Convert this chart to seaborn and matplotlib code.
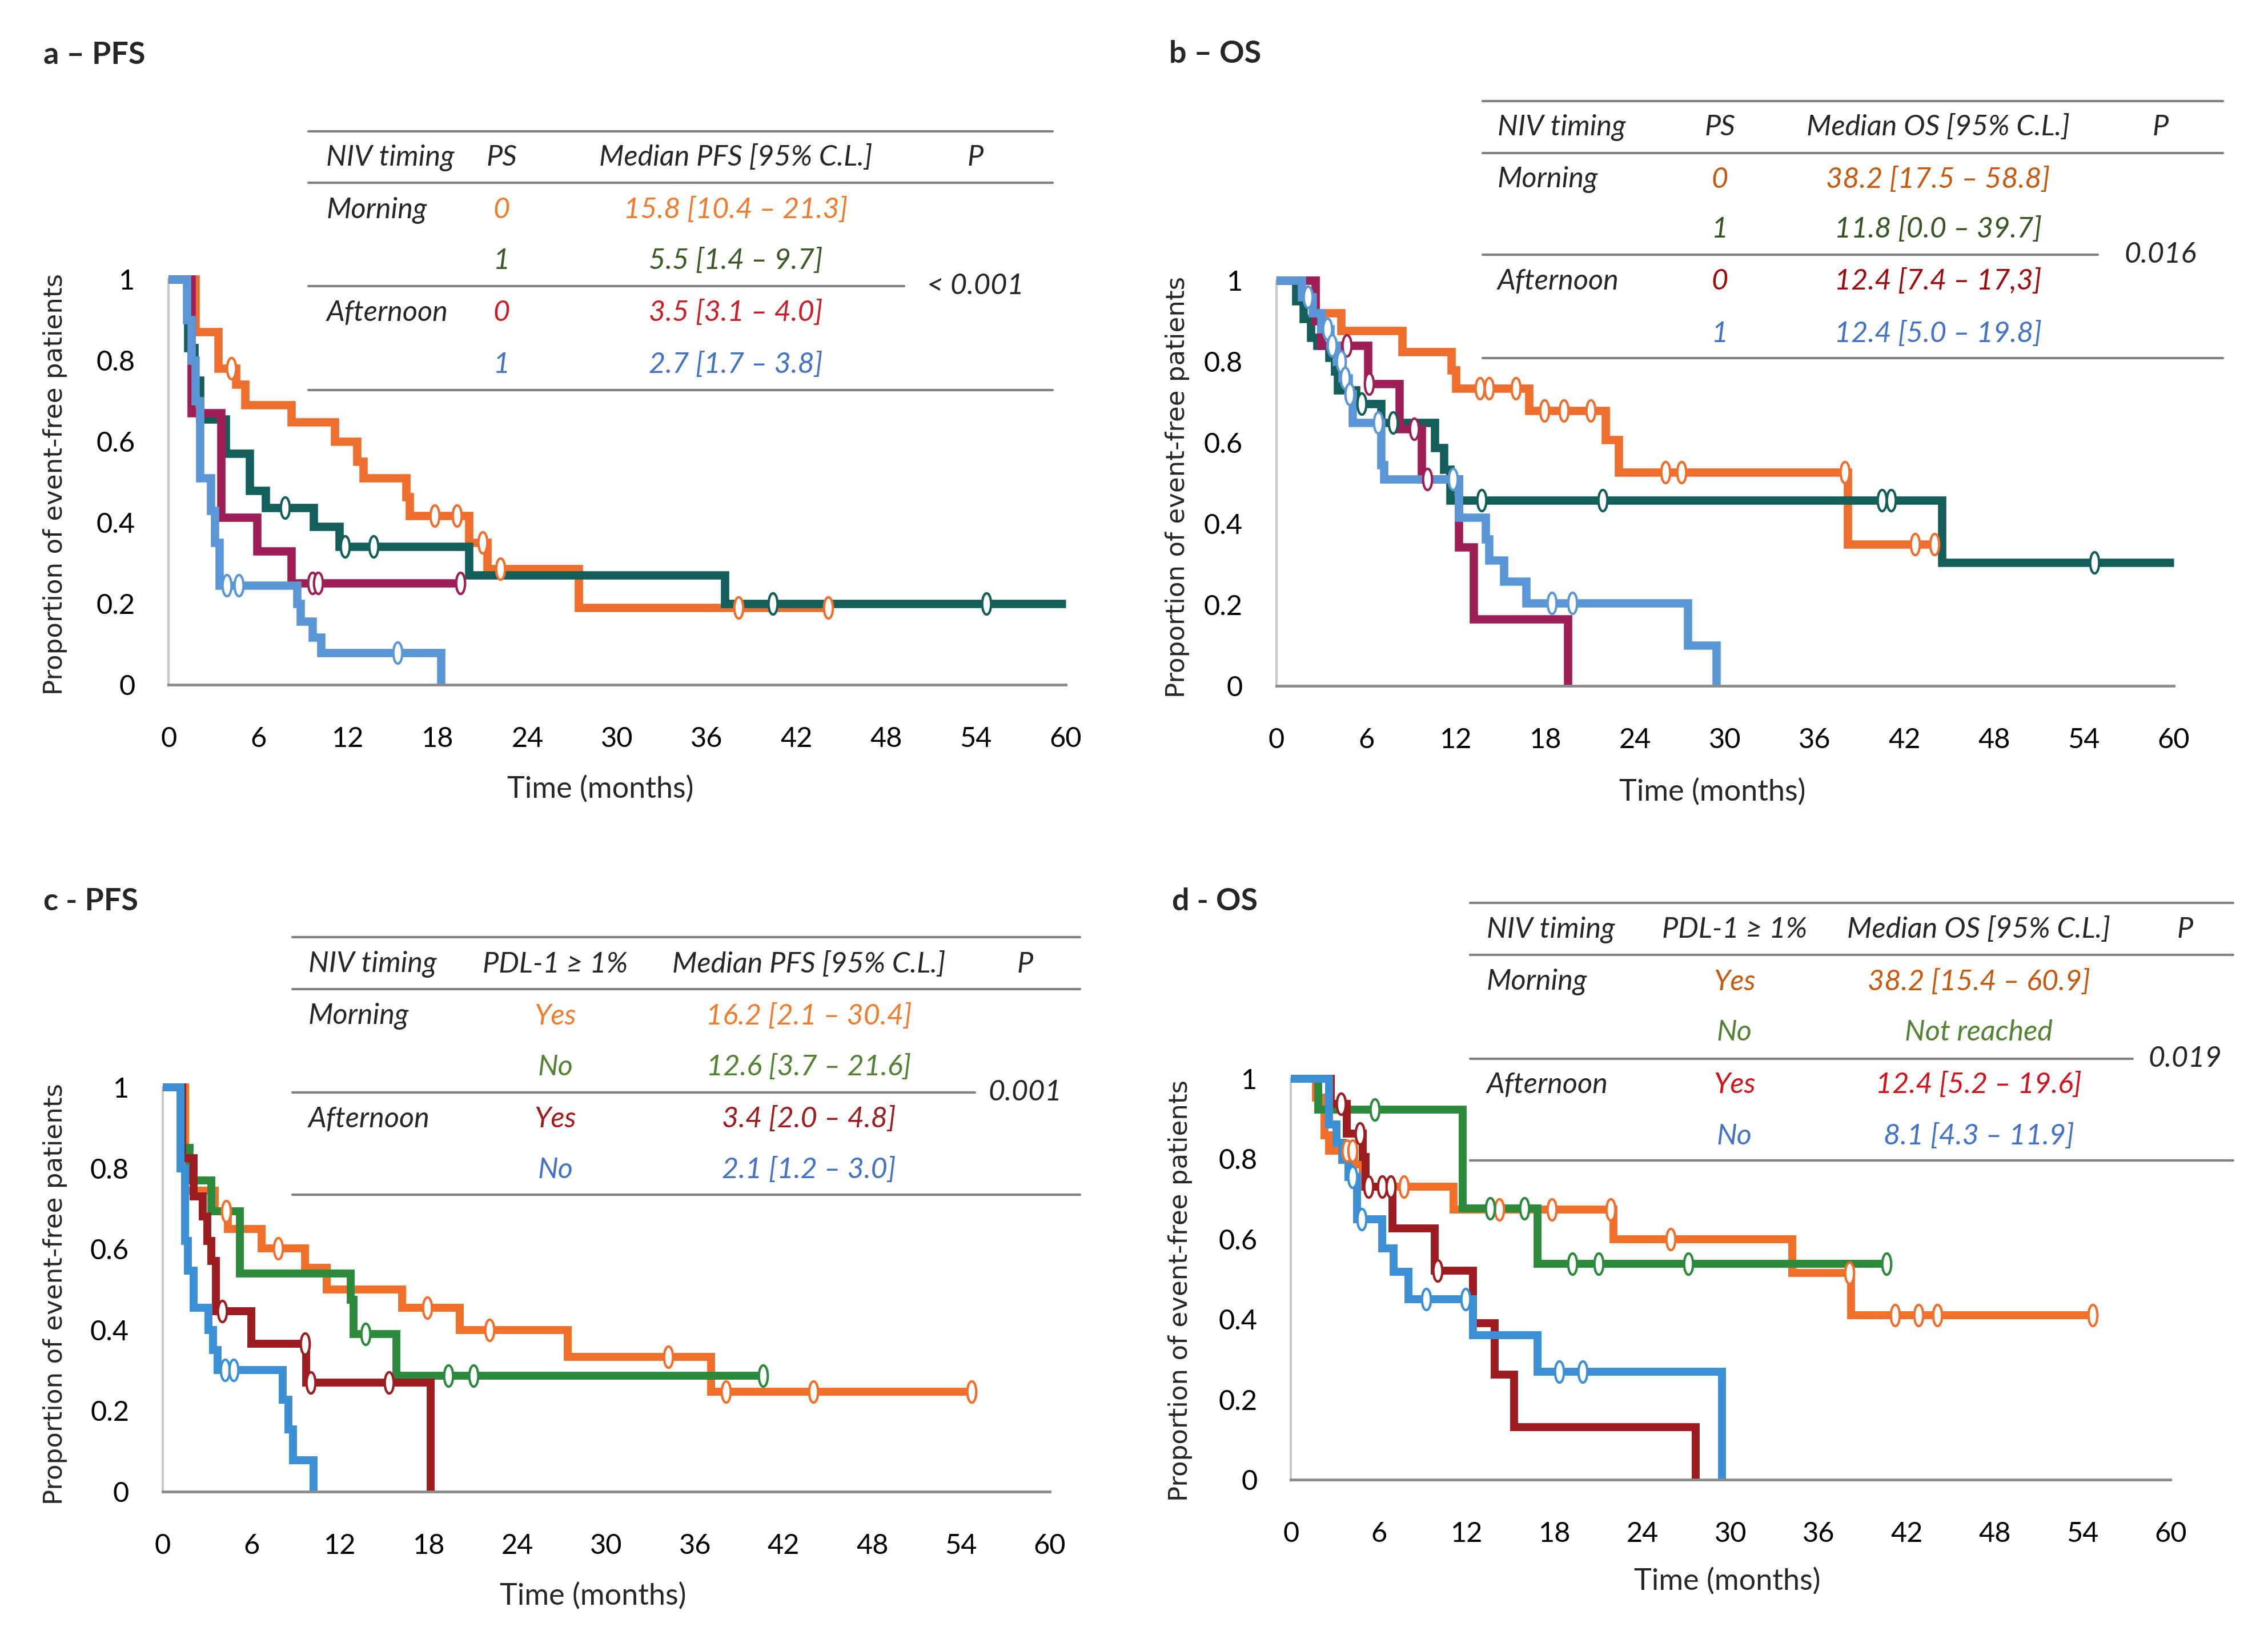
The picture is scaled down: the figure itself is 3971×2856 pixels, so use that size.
import numpy as np
import pandas as pd
import matplotlib
matplotlib.use('Agg')
import matplotlib.pyplot as plt
import matplotlib.path as mpath
from matplotlib.lines import Line2D
import seaborn as sns

# ---------------- data (months / proportion event-free) ----------------
# a - PFS, NIV timing x PS
a_morning0_t = [0, 1.8, 3.3, 4.5, 5.1, 8.2, 11.1, 12.6, 13.0, 15.9, 16.1, 20.1, 21.3, 27.4, 44.1]
a_morning0_s = [1, 0.87, 0.78, 0.74, 0.69, 0.647, 0.60, 0.55, 0.51, 0.463, 0.417, 0.35, 0.286, 0.19, 0.19]
a_morning0_cens = [4.2, 17.8, 19.3, 21.0, 22.2, 38.1, 44.1]
a_morning1_t = [0, 1.3, 1.7, 2.1, 3.8, 5.4, 6.5, 9.7, 11.4, 20.1, 37.2, 60]
a_morning1_s = [1, 0.83, 0.75, 0.655, 0.57, 0.478, 0.436, 0.39, 0.34, 0.27, 0.20, 0.20]
a_morning1_cens = [7.8, 11.8, 13.7, 40.4, 54.7]
a_after0_t = [0, 1.5, 3.5, 5.9, 8.2, 19.5]
a_after0_s = [1, 0.67, 0.413, 0.33, 0.25, 0.25]
a_after0_cens = [9.6, 10.0, 19.5]
a_after1_t = [0, 1.2, 1.5, 1.8, 2.1, 2.8, 3.1, 3.4, 8.6, 8.8, 9.6, 10.2, 18.2]
a_after1_s = [1, 0.9, 0.8, 0.7, 0.51, 0.43, 0.35, 0.245, 0.2, 0.156, 0.117, 0.079, 0]
a_after1_cens = [3.9, 4.7, 15.3]

# b - OS, NIV timing x PS
b_morning0_t = [0, 2.6, 4.3, 8.4, 11.7, 12.0, 16.9, 22.0, 22.9, 38.2, 44.0]
b_morning0_s = [1, 0.92, 0.876, 0.824, 0.78, 0.734, 0.68, 0.607, 0.527, 0.35, 0.35]
b_morning0_cens = [13.6, 14.2, 16.0, 17.9, 19.2, 21.0, 26.0, 27.1, 38.0, 42.7, 44.0]
b_morning1_t = [0, 1.3, 1.8, 2.3, 2.7, 3.5, 3.9, 4.1, 5.3, 7.0, 10.6, 11.2, 11.6, 44.5, 60]
b_morning1_s = [1, 0.95, 0.906, 0.86, 0.84, 0.81, 0.776, 0.73, 0.696, 0.65, 0.588, 0.535, 0.458, 0.305, 0.305]
b_morning1_cens = [5.7, 7.8, 13.7, 21.8, 40.5, 41.1, 54.7]
b_after0_t = [0, 2.6, 3.0, 6.1, 8.2, 9.7, 12.2, 13.2, 19.5]
b_after0_s = [1, 0.9, 0.84, 0.745, 0.634, 0.51, 0.343, 0.166, 0]
b_after0_cens = [4.7, 6.2, 9.2, 10.1]
b_after1_t = [0, 1.7, 2.4, 3.0, 3.6, 4.0, 4.4, 4.8, 5.1, 7.0, 7.2, 12.2, 14.0, 14.2, 15.2, 16.7, 27.5, 29.4]
b_after1_s = [1, 0.96, 0.92, 0.88, 0.84, 0.80, 0.76, 0.72, 0.65, 0.546, 0.51, 0.416, 0.362, 0.31, 0.258, 0.205, 0.10, 0]
b_after1_cens = [2.1, 3.4, 3.7, 4.3, 4.6, 4.9, 6.8, 11.8, 18.4, 19.8]

# c - PFS, NIV timing x PDL-1
c_morningY_t = [0, 1.5, 3.5, 4.4, 6.7, 9.6, 11.1, 16.2, 20.1, 27.4, 37.1, 54.7]
c_morningY_s = [1, 0.744, 0.694, 0.649, 0.602, 0.554, 0.50, 0.455, 0.40, 0.333, 0.247, 0.247]
c_morningY_cens = [4.3, 7.8, 17.9, 22.1, 34.2, 38.1, 44.0, 54.7]
c_morningN_t = [0, 1.3, 1.8, 3.3, 5.2, 12.7, 12.9, 15.8, 40.6]
c_morningN_s = [1, 0.85, 0.77, 0.694, 0.54, 0.475, 0.39, 0.287, 0.287]
c_morningN_cens = [13.7, 19.3, 21.0, 40.6]
c_afterY_t = [0, 1.3, 2.1, 2.7, 3.0, 3.3, 3.6, 6.0, 9.7, 18.1]
c_afterY_s = [1, 0.825, 0.73, 0.68, 0.62, 0.57, 0.446, 0.366, 0.27, 0]
c_afterY_cens = [4.0, 9.6, 10.0, 15.3]
c_afterN_t = [0, 1.2, 1.5, 1.7, 2.1, 3.1, 3.4, 3.7, 8.1, 8.5, 8.8, 10.2]
c_afterN_s = [1, 0.8, 0.62, 0.547, 0.455, 0.40, 0.35, 0.30, 0.227, 0.154, 0.077, 0]
c_afterN_cens = [4.2, 4.8]

# d - OS, NIV timing x PDL-1
d_morningY_t = [0, 1.7, 2.3, 2.6, 4.3, 4.9, 11.1, 22.0, 34.2, 38.2, 54.7]
d_morningY_s = [1, 0.952, 0.859, 0.82, 0.786, 0.731, 0.673, 0.60, 0.515, 0.41, 0.41]
d_morningY_cens = [3.8, 4.2, 7.7, 14.2, 17.8, 21.8, 25.9, 38.1, 41.2, 42.8, 44.1, 54.7]
d_morningN_t = [0, 1.85, 11.7, 16.8, 40.6]
d_morningN_s = [1, 0.923, 0.677, 0.538, 0.538]
d_morningN_cens = [5.7, 13.6, 15.9, 19.2, 21.0, 27.1, 40.6]
d_afterY_t = [0, 2.7, 3.8, 4.9, 5.1, 6.9, 9.8, 12.4, 13.9, 15.2, 27.6]
d_afterY_s = [1, 0.937, 0.863, 0.805, 0.731, 0.627, 0.522, 0.39, 0.263, 0.131, 0]
d_afterY_cens = [3.4, 4.7, 5.3, 6.2, 6.8, 10.0]
d_afterN_t = [0, 2.6, 3.1, 3.5, 3.9, 4.5, 6.2, 7.0, 8.0, 12.4, 16.8, 29.4]
d_afterN_s = [1, 0.886, 0.84, 0.797, 0.755, 0.65, 0.577, 0.519, 0.45, 0.36, 0.27, 0]
d_afterN_cens = [4.2, 4.8, 9.2, 11.9, 18.3, 19.9]

# table texts
timing_labels = ['Morning', '', 'Afternoon', '']
ps_groups = ['0', '1', '0', '1']
pdl_groups = ['Yes', 'No', 'Yes', 'No']
a_header = ['NIV timing', 'PS', 'Median PFS [95% C.L.]', 'P']
a_medians = ['15.8 [10.4 – 21.3]', '5.5 [1.4 – 9.7]', '3.5 [3.1 – 4.0]', '2.7 [1.7 – 3.8]']
a_pvalue = '< 0.001'
b_header = ['NIV timing', 'PS', 'Median OS [95% C.L.]', 'P']
b_medians = ['38.2 [17.5 – 58.8]', '11.8 [0.0 – 39.7]', '12.4 [7.4 – 17,3]', '12.4 [5.0 – 19.8]']
b_pvalue = '0.016'
c_header = ['NIV timing', 'PDL-1 ≥ 1%', 'Median PFS [95% C.L.]', 'P']
c_medians = ['16.2 [2.1 – 30.4]', '12.6 [3.7 – 21.6]', '3.4 [2.0 – 4.8]', '2.1 [1.2 – 3.0]']
c_pvalue = '0.001'
d_header = ['NIV timing', 'PDL-1 ≥ 1%', 'Median OS [95% C.L.]', 'P']
d_medians = ['38.2 [15.4 – 60.9]', 'Not reached', '12.4 [5.2 – 19.6]', '8.1 [4.3 – 11.9]']
d_pvalue = '0.019'

# ---------------- style ----------------
sns.set_theme(style='white')
plt.rcParams['font.family'] = ['Lato', 'DejaVu Sans']

W, H = 1560.0, 1122.0   # layout grid in reference px


def fx(x):
    return x / W


def fy(y):
    return 1 - y / H


curve_ab = ['#EE6F2D', '#135E58', '#9E1F56', '#5B97D6']
curve_cd = ['#F0702B', '#2C8A3C', '#9C1C20', '#3A8FD5']
txt_a = ['#ED7D31', '#3C5A26', '#C8202A', '#4472C4']
txt_b = ['#C55A11', '#375623', '#9E0B0F', '#4472C4']
txt_c = ['#ED7D31', '#548235', '#9E1B1E', '#4472C4']
txt_d = ['#C55A11', '#548235', '#D0141E', '#4472C4']

circ = mpath.Path.unit_circle()
censor_marker = mpath.Path(circ.vertices * np.array([0.42, 1.0]), circ.codes)

panels = [
    dict(title='a – PFS', title_xy=(30, 38), box=(116, 733, 192, 471), lw=4.2,
         curves=[(a_morning0_t, a_morning0_s, a_morning0_cens),
                 (a_morning1_t, a_morning1_s, a_morning1_cens),
                 (a_after0_t, a_after0_s, a_after0_cens),
                 (a_after1_t, a_after1_s, a_after1_cens)],
         colors=curve_ab, tcolors=txt_a, header=a_header, groups=ps_groups,
         medians=a_medians, pvalue=a_pvalue,
         tx=(212, 724, 622), lines_y=(90.3, 125.6, 197, 268.2), head_y=108.6,
         rows_y=(144.7, 179.5, 215.2, 250.9), cols=(224.4, 345, 506, 671),
         ylab=(38, 333), xlab=(413, 543)),
    dict(title='b – OS', title_xy=(804, 37), box=(878, 1495, 193, 472), lw=4.2,
         curves=[(b_morning0_t, b_morning0_s, b_morning0_cens),
                 (b_morning1_t, b_morning1_s, b_morning1_cens),
                 (b_after0_t, b_after0_s, b_after0_cens),
                 (b_after1_t, b_after1_s, b_after1_cens)],
         colors=curve_ab, tcolors=txt_b, header=b_header, groups=ps_groups,
         medians=b_medians, pvalue=b_pvalue,
         tx=(1020, 1529, 1443), lines_y=(69.6, 105.2, 175.4, 246.4), head_y=87.7,
         rows_y=(123.6, 157.8, 193.8, 229.7), cols=(1030, 1183, 1333, 1486),
         ylab=(810, 335), xlab=(1178, 545)),
    dict(title='c - PFS', title_xy=(30, 620), box=(112, 722, 748, 1026), lw=4.0,
         curves=[(c_morningY_t, c_morningY_s, c_morningY_cens),
                 (c_morningN_t, c_morningN_s, c_morningN_cens),
                 (c_afterY_t, c_afterY_s, c_afterY_cens),
                 (c_afterN_t, c_afterN_s, c_afterN_cens)],
         colors=curve_cd, tcolors=txt_c, header=c_header, groups=pdl_groups,
         medians=c_medians, pvalue=c_pvalue,
         tx=(201, 743, 670.5), lines_y=(644.6, 680.4, 751.6, 821.9), head_y=663.4,
         rows_y=(699.2, 734.3, 770, 805), cols=(212, 382, 556.5, 705),
         ylab=(38, 890), xlab=(408, 1098)),
    dict(title='d - OS', title_xy=(806, 620), box=(888, 1493, 742, 1018), lw=4.0,
         curves=[(d_morningY_t, d_morningY_s, d_morningY_cens),
                 (d_morningN_t, d_morningN_s, d_morningN_cens),
                 (d_afterY_t, d_afterY_s, d_afterY_cens),
                 (d_afterN_t, d_afterN_s, d_afterN_cens)],
         colors=curve_cd, tcolors=txt_d, header=d_header, groups=pdl_groups,
         medians=d_medians, pvalue=d_pvalue,
         tx=(1011, 1536, 1466.7), lines_y=(621.3, 657, 728.4, 798.3), head_y=639.6,
         rows_y=(675.7, 710.3, 746.4, 781.7), cols=(1022.5, 1193, 1361, 1503),
         ylab=(812, 888), xlab=(1188, 1088)),
]

fig = plt.figure(figsize=(3971 / 250, 2856 / 250), dpi=250)
fig.patch.set_facecolor('white')

tsize = 14.5
for p in panels:
    l, r, t, b = p['box']
    ax = fig.add_axes([fx(l), fy(b), (r - l) / W, (b - t) / H])
    ax.set_facecolor('white')

    for (tt, ss, cens), col in zip(p['curves'], p['colors']):
        df = pd.DataFrame({'t': tt, 's': ss})
        sns.lineplot(data=df, x='t', y='s', drawstyle='steps-post', estimator=None, sort=False,
                     color=col, linewidth=p['lw'], solid_joinstyle='miter',
                     solid_capstyle='butt', clip_on=False, ax=ax, legend=False, zorder=2)
        idx = np.searchsorted(np.array(tt), np.array(cens), side='right') - 1
        cdf = pd.DataFrame({'t': cens, 's': np.array(ss)[idx]})
        sns.scatterplot(data=cdf, x='t', y='s', marker=censor_marker, s=115, color='white',
                        edgecolor=col, linewidth=1.2, clip_on=False, ax=ax, legend=False, zorder=3)

    ax.set_xlim(0, 60)
    ax.set_ylim(0, 1)
    ax.set_xticks(np.arange(0, 61, 6))
    ax.set_xticks(np.arange(3, 61, 6), minor=True)
    ax.set_yticks(np.arange(0, 1.01, 0.2))
    ax.set_yticks(np.arange(0.1, 1.0, 0.2), minor=True)
    ax.set_yticklabels(['0', '0.2', '0.4', '0.6', '0.8', '1'])
    ax.set_xlabel('')
    ax.set_ylabel('')
    ax.tick_params(axis='both', which='major', direction='out', length=12, width=1.2,
                   color='#C8C8C8', labelsize=14, labelcolor='black')
    ax.tick_params(axis='x', which='major', pad=9)
    ax.tick_params(axis='y', which='major', pad=5)
    ax.tick_params(axis='both', which='minor', direction='out', length=6, width=1.4,
                   color='#5A5A5A')
    for side in ['top', 'right']:
        ax.spines[side].set_visible(False)
    ax.spines['left'].set_color('#C8C8C8')
    ax.spines['left'].set_linewidth(1.2)
    ax.spines['bottom'].set_color('#8C8C8C')
    ax.spines['bottom'].set_linewidth(1.4)
    ax.spines['left'].set_zorder(1)

    # axis labels
    fig.text(fx(p['ylab'][0]), fy(p['ylab'][1]), 'Proportion of event-free patients',
             rotation=90, ha='center', va='center', fontsize=13, family='DejaVu Sans')
    fig.text(fx(p['xlab'][0]), fy(p['xlab'][1]), 'Time (months)', ha='center', va='center',
             fontsize=15)
    # panel title
    fig.text(fx(p['title_xy'][0]), fy(p['title_xy'][1]), p['title'], ha='left', va='center',
             fontsize=15.5, fontweight='bold')

    # table
    x0, x1, xmid = p['tx']
    ly = p['lines_y']
    for yy, xe in zip(ly, (x1, x1, xmid, x1)):
        fig.add_artist(Line2D([fx(x0), fx(xe)], [fy(yy), fy(yy)], transform=fig.transFigure,
                              color='#808080', linewidth=1.2))
    c0, c1, c2, c3 = p['cols']
    hy = fy(p['head_y'])
    fig.text(fx(c0), hy, p['header'][0], ha='left', va='center', style='italic', fontsize=tsize)
    fig.text(fx(c1), hy, p['header'][1], ha='center', va='center', style='italic', fontsize=tsize)
    fig.text(fx(c2), hy, p['header'][2], ha='center', va='center', style='italic', fontsize=tsize)
    fig.text(fx(c3), hy, p['header'][3], ha='center', va='center', style='italic', fontsize=tsize)
    for i, yy in enumerate(p['rows_y']):
        if timing_labels[i]:
            fig.text(fx(c0), fy(yy), timing_labels[i], ha='left', va='center', style='italic',
                     fontsize=tsize)
        fig.text(fx(c1), fy(yy), p['groups'][i], ha='center', va='center', style='italic',
                 fontsize=tsize, color=p['tcolors'][i])
        fig.text(fx(c2), fy(yy), p['medians'][i], ha='center', va='center', style='italic',
                 fontsize=tsize, color=p['tcolors'][i])
    fig.text(fx(c3), fy(ly[2]), p['pvalue'], ha='center', va='center', style='italic',
             fontsize=tsize)

fig.savefig('out.png', dpi=250, facecolor='white')
